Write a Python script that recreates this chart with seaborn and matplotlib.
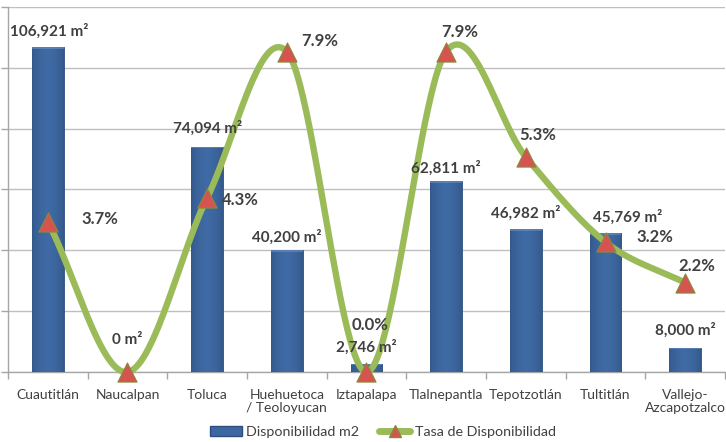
import numpy as np
import pandas as pd
import matplotlib
matplotlib.use("Agg")
import matplotlib.pyplot as plt
from matplotlib.lines import Line2D
from matplotlib.patches import Patch
import seaborn as sns

# Data
municipios = ["Cuautitlán", "Naucalpan", "Toluca", "Huehuetoca\n/ Teoloyucan",
              "Iztapalapa", "Tlalnepantla", "Tepotzotlán", "Tultitlán",
              "Vallejo-\nAzcapotzalco"]
disponibilidad_m2 = [106921, 0, 74094, 40200, 2746, 62811, 46982, 45769, 8000]
tasa_pct = [3.7, 0.0, 4.3, 7.9, 0.0, 7.9, 5.3, 3.2, 2.2]
bar_labels = ["106,921 m²", "0 m²", "74,094 m²", "40,200 m²", "2,746 m²",
              "62,811 m²", "46,982 m²", "45,769 m²", "8,000 m²"]
rate_labels = ["3.7%", None, "4.3%", "7.9%", "0.0%", "7.9%", "5.3%", "3.2%", "2.2%"]

# Label placement (pixel offsets from bar top / marker)
bar_lbl_off = [(1, 16), (0, 32), (0, 18), (0, 13), (0, 16), (0, 13), (0, 16), (22, 16), (0, 17)]
rate_lbl_off = [(52, 3), None, (33, -2), (33, 11), (4, 47), (14, 20), (12, 22), (49, 5), (12, 17)]

sns.set_theme(style="white")
plt.rcParams["font.family"] = ["Lato", "DejaVu Sans"]

BAR_BLUE = "#3D67A0"
GREEN = "#9BBB59"
RED = "#D55450"
TXT = "#404040"

W, H = 726, 442
AX_L, AX_B, AX_W, AX_H = 8, 372, 717, 365  # pixels

fig = plt.figure(figsize=(W / 100, H / 100), dpi=100)
ax = fig.add_axes([AX_L / W, 1 - AX_B / H, AX_W / W, AX_H / H])

df = pd.DataFrame({"municipio": municipios, "m2": disponibilidad_m2})
sns.barplot(data=df, x="municipio", y="m2", ax=ax, color=BAR_BLUE,
            width=0.4, saturation=1, edgecolor="#2C4F80", linewidth=0.6, zorder=3)

# Subtle shading on each bar: darker sides, lighter top cap
nx, ny = 64, 64
img = np.ones((ny, nx, 4))
base = np.array(matplotlib.colors.to_rgb(BAR_BLUE))
gx = np.linspace(0, 1, nx)
side = 0.84 + 0.2 * (1 - np.abs(gx - 0.5) * 2) ** 0.5
for j in range(ny):
    img[j, :, :3] = base[None, :] * side[:, None]
for p in ax.patches:
    x0, y0 = p.get_x(), p.get_y()
    w, h = p.get_width(), p.get_height()
    if h <= 0:
        continue
    im = ax.imshow(np.clip(img, 0, 1), extent=[x0, x0 + w, y0, y0 + h],
                   aspect="auto", zorder=3.1, interpolation="bilinear", origin="lower")
    im.set_clip_path(p)
    cap = min(h, 600)
    ax.fill_between([x0, x0 + w], y0 + h - cap, y0 + h, color="#6F94C4",
                    alpha=0.55, zorder=3.2, linewidth=0)

n_cat = len(municipios)
ax.set_xlim(-0.5, n_cat - 0.5)
ax.set_ylim(0, 120000)
ax.set_yticks(np.arange(0, 120001, 20000))
ax.set_yticklabels([])
ax.set_xlabel("")
ax.set_ylabel("")
ax.yaxis.grid(True, color="#BFBFBF", linewidth=1.0)
ax.set_axisbelow(True)
for s in ["top", "right"]:
    ax.spines[s].set_visible(False)
for s in ["left", "bottom"]:
    ax.spines[s].set_color("#A6A6A6")
    ax.spines[s].set_linewidth(1.0)
ax.tick_params(axis="y", left=True, length=5, color="#A6A6A6", width=1)
ax.set_xticks(np.arange(n_cat))
ax.set_xticklabels(municipios, fontsize=10, color=TXT, linespacing=1.1)
ax.tick_params(axis="x", bottom=False, pad=6)
ax.set_xticks(np.arange(-0.5, n_cat, 1), minor=True)
ax.tick_params(axis="x", which="minor", bottom=True, length=5, color="#A6A6A6", width=1)

# Secondary axis: smoothed rate line
RATE_MAX = 9
ax2 = ax.twinx()
ax2.set_ylim(0, RATE_MAX)
ax2.set_yticks([])
for s in ax2.spines.values():
    s.set_visible(False)

# Cubic Hermite (Catmull-Rom) smoothing through the rate points
xs = np.arange(n_cat, dtype=float)
ys = np.array(tasa_pct, dtype=float)
m = np.zeros(n_cat)
m[1:-1] = (ys[2:] - ys[:-2]) / 2
m[0] = ys[1] - ys[0]
m[-1] = ys[-1] - ys[-2]
cx, cy = [], []
t = np.linspace(0, 1, 50)
h00 = 2 * t**3 - 3 * t**2 + 1
h10 = t**3 - 2 * t**2 + t
h01 = -2 * t**3 + 3 * t**2
h11 = t**3 - t**2
for i in range(n_cat - 1):
    cx.extend(xs[i] + t)
    cy.extend(h00 * ys[i] + h10 * m[i] + h01 * ys[i + 1] + h11 * m[i + 1])
smooth = pd.DataFrame({"x": cx, "y": cy})
sns.lineplot(data=smooth, x="x", y="y", ax=ax2, color=GREEN, linewidth=4.6,
             sort=False, zorder=4, clip_on=False)
pts = pd.DataFrame({"x": xs, "y": ys})
sns.scatterplot(data=pts, x="x", y="y", ax=ax2, marker="^", s=190, color=RED,
                edgecolor="#8A8A3A", linewidth=0.8, zorder=5, clip_on=False)
ax2.set_xlabel("")
ax2.set_ylabel("")
ax2.set_xlim(-0.5, n_cat - 0.5)

# Data labels drawn above everything
for i, (v, lbl) in enumerate(zip(disponibilidad_m2, bar_labels)):
    dx, dy = bar_lbl_off[i]
    ax2.annotate(lbl, (i, v), xycoords=ax.transData, xytext=(dx, dy),
                 textcoords="offset pixels", ha="center", va="center",
                 fontsize=11, fontweight="bold", color=TXT, zorder=7)

for i, (v, lbl) in enumerate(zip(tasa_pct, rate_labels)):
    if lbl is None:
        continue
    dx, dy = rate_lbl_off[i]
    ax2.annotate(lbl, (i, v), xytext=(dx, dy), textcoords="offset pixels",
                 ha="center", va="center", fontsize=12, fontweight="bold",
                 color=TXT, zorder=7)

handles = [Patch(facecolor=BAR_BLUE, edgecolor="#2C4F80"),
           Line2D([0], [0], color=GREEN, linewidth=5, marker="^", markersize=9,
                  markerfacecolor=RED, markeredgecolor="#8A8A3A")]
fig.legend(handles, ["Disponibilidad m2", "Tasa de Disponibilidad"],
           loc="center", bbox_to_anchor=(383 / W, 1 - 432 / H), ncol=2,
           frameon=False, fontsize=10.3, handlelength=2.2, handletextpad=0.3,
           columnspacing=1.4, labelcolor=TXT)

fig.savefig("out.png", dpi=100)
